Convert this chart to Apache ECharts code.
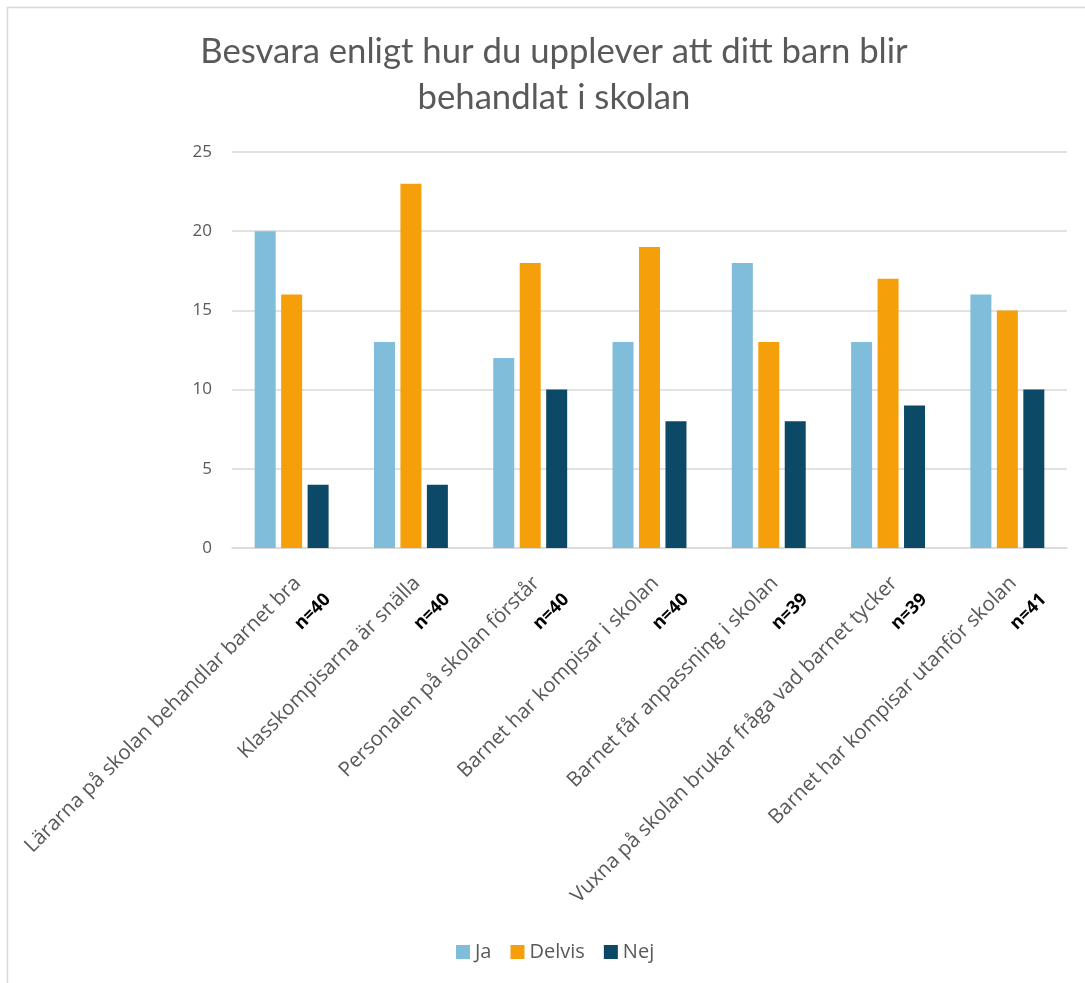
<!DOCTYPE html>
<html>
<head>
<meta charset="utf-8">
<script src="https://cdn.jsdelivr.net/npm/echarts@6/dist/echarts.min.js"></script>
<style>
html,body{margin:0;padding:0;background:#fff;}
#chart{width:1085px;height:983px;}
</style>
</head>
<body>
<div id="chart"></div>
<script>
const categories = [
  'Lärarna på skolan behandlar barnet bra',
  'Klasskompisarna är snälla',
  'Personalen på skolan förstår',
  'Barnet har kompisar i skolan',
  'Barnet får anpassning i skolan',
  'Vuxna på skolan brukar fråga vad barnet tycker',
  'Barnet har kompisar utanför skolan'
];
const nLabels = ['n=40', 'n=40', 'n=40', 'n=40', 'n=39', 'n=39', 'n=41'];
const jaValues = [20, 13, 12, 13, 18, 13, 16];
const delvisValues = [16, 23, 18, 19, 13, 17, 15];
const nejValues = [4, 4, 10, 8, 8, 9, 10];
const seriesNames = ['Ja', 'Delvis', 'Nej'];
const titleText = 'Besvara enligt hur du upplever att ditt barn blir\nbehandlat i skolan';

const FONT = "'Open Sans', sans-serif";
const colors = ['#7FBDDA', '#F59F0A', '#0B4966'];
const chart = echarts.init(document.getElementById('chart'));
const mkSeries = (name, data, color) => ({
  name: name,
  type: 'bar',
  data: data,
  barWidth: 21,
  barGap: '26%',
  itemStyle: { color: color },
  emphasis: { disabled: true }
});
chart.setOption({
  animation: false,
  backgroundColor: '#ffffff',
  graphic: [{
    type: 'rect',
    shape: { x: 7.5, y: 7.5, width: 1100, height: 1000 },
    style: { fill: 'none', stroke: '#d9d9d9', lineWidth: 1.5 },
    silent: true
  }],
  title: {
    text: titleText,
    left: 549,
    textAlign: 'center',
    top: 24,
    textStyle: {
      fontFamily: 'Lato',
      fontSize: 34.7,
      fontWeight: 'normal',
      color: '#595959',
      lineHeight: 46
    }
  },
  legend: {
    data: seriesNames,
    left: 451,
    top: 937,
    itemWidth: 14,
    itemHeight: 14,
    itemGap: 19,
    icon: 'rect',
    textStyle: { fontFamily: FONT, fontSize: 20, color: '#595959' }
  },
  grid: { left: 232, right: 18, top: 152, bottom: 435, containLabel: false },
  xAxis: {
    type: 'category',
    data: categories,
    axisLine: { lineStyle: { color: '#d9d9d9', width: 1.5 } },
    axisTick: { show: false },
    axisLabel: {
      interval: 0,
      rotate: 45,
      margin: 7,
      verticalAlign: 'top',
      padding: [8.5, 0, 0, 0],
      fontFamily: FONT,
      formatter: function (v, i) {
        return '{a|' + v + '}\n{b|' + nLabels[i] + '}';
      },
      rich: {
        a: { fontFamily: FONT, fontSize: 20.5, color: '#595959', lineHeight: 27, padding: [0, 13.5, 0, 0] },
        b: { fontFamily: FONT, fontSize: 18, fontWeight: 'bold', color: '#000000', lineHeight: 39, padding: [0, 4, 0, 0] }
      }
    }
  },
  yAxis: {
    type: 'value',
    min: 0,
    max: 25,
    interval: 5,
    axisLine: { show: false },
    axisTick: { show: false },
    splitLine: { lineStyle: { color: '#d9d9d9', width: 1.5 } },
    axisLabel: { fontFamily: FONT, fontSize: 17, color: '#595959', margin: 20 }
  },
  series: [
    mkSeries(seriesNames[0], jaValues, colors[0]),
    mkSeries(seriesNames[1], delvisValues, colors[1]),
    mkSeries(seriesNames[2], nejValues, colors[2])
  ]
});
</script>
</body>
</html>
